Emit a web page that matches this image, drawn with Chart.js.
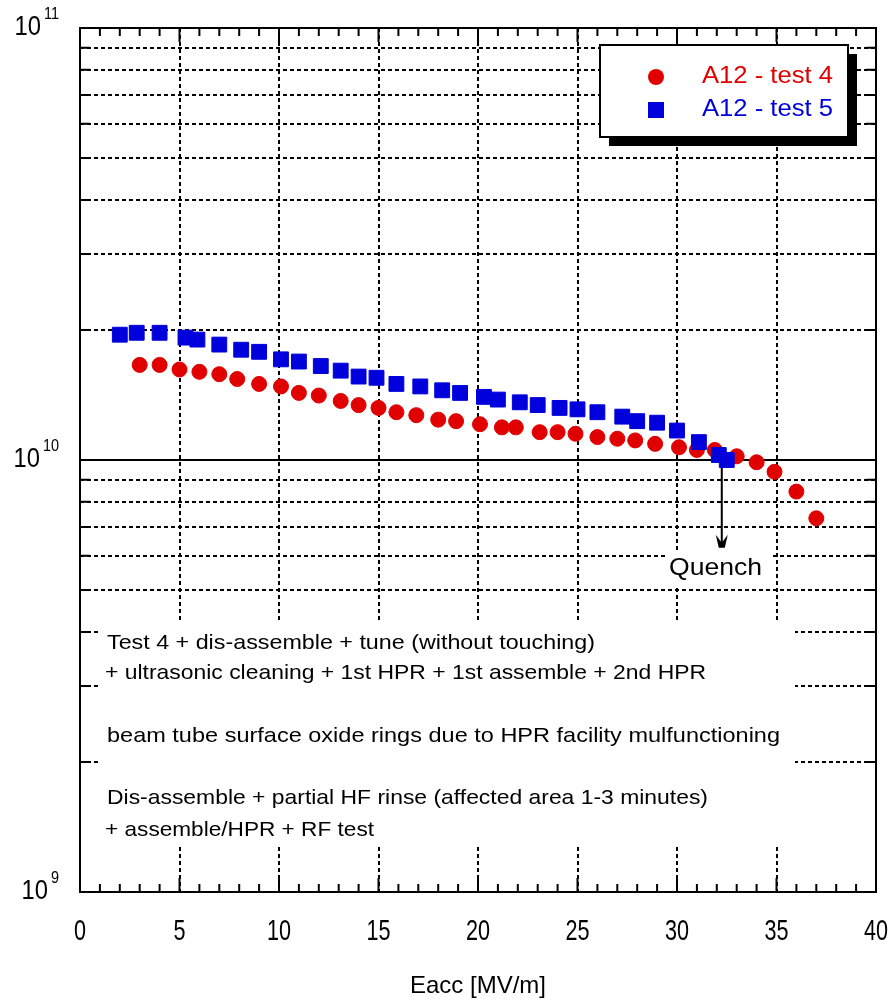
<!DOCTYPE html>
<html>
<head>
<meta charset="utf-8">
<script src="https://cdn.jsdelivr.net/npm/chart.js@4.4.0/dist/chart.umd.min.js"></script>
<style>
  body { margin: 0; background: #fff; }
  canvas { display: block; }
</style>
</head>
<body>
<canvas id="mychart" width="891" height="1001"></canvas>
<script>
// Q0 vs Eacc
var eaccTest4 = [3, 4, 5, 6, 7, 7.9, 9, 10.1, 11, 12, 13.1, 14, 15, 15.9, 16.9, 18, 18.9, 20.1, 21.2, 21.9,
                 23.1, 24, 24.9, 26, 27, 27.9, 28.9, 30.1, 31, 31.9, 33, 34, 34.9, 36, 37];
var q0Test4 = [1.66e10, 1.66e10, 1.62e10, 1.60e10, 1.58e10, 1.54e10, 1.50e10, 1.48e10, 1.43e10, 1.41e10,
               1.37e10, 1.34e10, 1.32e10, 1.29e10, 1.27e10, 1.24e10, 1.23e10, 1.21e10, 1.19e10, 1.19e10,
               1.16e10, 1.16e10, 1.15e10, 1.13e10, 1.12e10, 1.11e10, 1.09e10, 1.07e10, 1.055e10, 1.055e10,
               1.02e10, 9.88e9, 9.39e9, 8.45e9, 7.33e9];
var eaccTest5 = [2, 2.85, 4, 5.3, 5.9, 7, 8.1, 9, 10.1, 11, 12.1, 13.1, 14, 14.9, 15.9, 17.1, 18.2, 19.1,
                 20.3, 21, 22.1, 23, 24.1, 25, 26, 27.25, 28, 29, 30, 31.1, 32.1, 32.5];
var q0Test5 = [1.95e10, 1.97e10, 1.97e10, 1.92e10, 1.90e10, 1.85e10, 1.80e10, 1.78e10, 1.71e10, 1.69e10,
               1.65e10, 1.61e10, 1.56e10, 1.55e10, 1.50e10, 1.48e10, 1.45e10, 1.43e10, 1.40e10, 1.38e10,
               1.36e10, 1.34e10, 1.32e10, 1.31e10, 1.29e10, 1.26e10, 1.23e10, 1.22e10, 1.17e10, 1.10e10,
               1.027e10, 1.0e10];
var seriesNames = ["A12 - test 4", "A12 - test 5"];
var seriesColors = ["#e00000", "#0000dc"];
var xTickValues = [0, 5, 10, 15, 20, 25, 30, 35, 40];
var yTickValues = [1e9, 2e9, 3e9, 4e9, 5e9, 6e9, 7e9, 8e9, 9e9,
                   1e10, 2e10, 3e10, 4e10, 5e10, 6e10, 7e10, 8e10, 9e10, 1e11];
var yDecades = [9, 10, 11];
var xTitle = "Eacc [MV/m]";
var notes = [
  "Test 4 + dis-assemble + tune (without touching)",
  "+ ultrasonic cleaning + 1st HPR + 1st assemble + 2nd HPR",
  "beam tube surface oxide rings due to HPR facility mulfunctioning",
  "Dis-assemble + partial HF rinse (affected area 1-3 minutes)",
  "+ assemble/HPR + RF test"
];
var quench = { label: "Quench", eacc: 32.25, from: 1.0e10, to: 6.3e9 };

var SANS = "'Liberation Sans', Arial, sans-serif";

function toPoints(xs, ys) {
    return xs.map(function(x, i) { return { x: x, y: ys[i] }; });
}

// squeeze or stretch text to the width it has in the picture
function fitText(ctx, text, x, y, width) {
    var w = ctx.measureText(text).width;
    ctx.save();
    ctx.translate(x, y);
    ctx.scale(width / w, 1);
    ctx.fillText(text, 0, 0);
    ctx.restore();
}

// tall narrow digits like the original plot program
function narrowText(ctx, text, x, y, k) {
    ctx.save();
    ctx.translate(x, y);
    ctx.scale(k, 1);
    ctx.fillText(text, 0, 0);
    ctx.restore();
    return ctx.measureText(text).width * k;
}

var decor = {
    id: "decor",
    beforeDatasetsDraw: function(chart) {
        var ctx = chart.ctx, a = chart.chartArea;
        var xs = chart.scales.x, ys = chart.scales.y;
        ctx.save();
        // solid line at 10^10
        var y10 = ys.getPixelForValue(1e10);
        ctx.strokeStyle = "#000";
        ctx.lineWidth = 2;
        ctx.beginPath();
        ctx.moveTo(a.left, y10);
        ctx.lineTo(a.right, y10);
        ctx.stroke();
        // white boxes under the notes and the quench label
        ctx.fillStyle = "#fff";
        ctx.fillRect(100, 620, 695, 225);
        ctx.fillRect(665, 553, 105, 32);
        // notes
        ctx.fillStyle = "#000";
        ctx.font = "21px " + SANS;
        ctx.textBaseline = "middle";
        ctx.textAlign = "left";
        var noteY = [643, 673, 736, 798, 830];
        var noteX = [107, 105, 107, 107, 105];
        var noteW = [488, 601, 673, 601, 269];
        notes.forEach(function(t, i) { fitText(ctx, t, noteX[i], noteY[i], noteW[i]); });
        // quench arrow
        var qx = xs.getPixelForValue(quench.eacc);
        var qy0 = ys.getPixelForValue(quench.from);
        var qy1 = ys.getPixelForValue(quench.to);
        ctx.lineWidth = 2;
        ctx.beginPath();
        ctx.moveTo(qx, qy0);
        ctx.lineTo(qx, qy1);
        ctx.stroke();
        ctx.beginPath();
        ctx.moveTo(qx - 6, qy1 - 12);
        ctx.lineTo(qx, qy1 - 4);
        ctx.lineTo(qx + 6, qy1 - 12);
        ctx.lineTo(qx + 3, qy1 + 1);
        ctx.lineTo(qx - 3, qy1 + 1);
        ctx.closePath();
        ctx.fill();
        ctx.font = "24px " + SANS;
        fitText(ctx, quench.label, 669, 568, 93);
        ctx.restore();
    },
    afterDatasetsDraw: function(chart) {
        var ctx = chart.ctx, a = chart.chartArea;
        var xs = chart.scales.x, ys = chart.scales.y;
        ctx.save();
        ctx.strokeStyle = "#000";
        ctx.fillStyle = "#000";
        // inward ticks on all four sides
        ctx.lineWidth = 2;
        ctx.beginPath();
        for (var v = 0; v <= 40; v++) {
            var px = xs.getPixelForValue(v);
            var len = v % 5 === 0 ? 14 : 8;
            ctx.moveTo(px, a.bottom); ctx.lineTo(px, a.bottom - len);
            ctx.moveTo(px, a.top); ctx.lineTo(px, a.top + len);
        }
        yTickValues.forEach(function(t) {
            var py = ys.getPixelForValue(t);
            ctx.moveTo(a.left, py); ctx.lineTo(a.left + 10, py);
            ctx.moveTo(a.right, py); ctx.lineTo(a.right - 10, py);
        });
        ctx.stroke();
        ctx.strokeRect(a.left, a.top, a.right - a.left, a.bottom - a.top);

        // x tick labels
        ctx.textBaseline = "middle";
        ctx.textAlign = "center";
        ctx.font = "30px " + SANS;
        xTickValues.forEach(function(t) {
            narrowText(ctx, String(t), xs.getPixelForValue(t), a.bottom + 40, 0.72);
        });

        // y labels as powers of ten
        ctx.textAlign = "right";
        yDecades.forEach(function(p) {
            var py = ys.getPixelForValue(Math.pow(10, p));
            ctx.font = "17px " + SANS;
            var sw = narrowText(ctx, String(p), 59, py - 14, 0.85);
            ctx.font = "28px " + SANS;
            narrowText(ctx, "10", 59 - sw - 3, py - 1, 0.85);
        });

        // legend with drop shadow
        var lx = a.right - 276, ly = a.top + 17, lw = 248, lh = 92;
        ctx.fillRect(lx + 9, ly + 9, lw, lh);
        ctx.fillStyle = "#fff";
        ctx.fillRect(lx, ly, lw, lh);
        ctx.lineWidth = 2;
        ctx.strokeRect(lx, ly, lw, lh);
        ctx.textAlign = "left";
        ctx.font = "23px " + SANS;
        [0, 1].forEach(function(i) {
            var ry = ly + 32 + i * 33;
            ctx.fillStyle = seriesColors[i];
            if (i === 0) {
                ctx.beginPath();
                ctx.arc(lx + 56, ry, 8, 0, Math.PI * 2);
                ctx.fill();
            } else {
                ctx.fillRect(lx + 48, ry - 8, 16, 16);
            }
            fitText(ctx, seriesNames[i], lx + 102, ry, 131);
        });
        ctx.restore();
    }
};

window.addEventListener("load", function() {
    var canvas = document.getElementById("mychart").getContext("2d");
    var myChart = new Chart(canvas, {
        type: "scatter",
        data: {
            datasets: [{
                label: seriesNames[0],
                data: toPoints(eaccTest4, q0Test4),
                pointStyle: "circle",
                pointRadius: 7.5,
                backgroundColor: seriesColors[0],
                borderColor: seriesColors[0],
                borderWidth: 1,
                order: 1
            }, {
                label: seriesNames[1],
                data: toPoints(eaccTest5, q0Test5),
                pointStyle: "rect",
                pointRadius: 10.5,
                backgroundColor: seriesColors[1],
                borderColor: seriesColors[1],
                borderWidth: 1,
                order: 0
            }]
        },
        options: {
            responsive: false,
            animation: false,
            layout: { padding: { top: 28, right: 15, left: 0, bottom: 0 } },
            plugins: {
                legend: { display: false },
                tooltip: { enabled: false }
            },
            scales: {
                x: {
                    type: "linear",
                    min: 0,
                    max: 40,
                    afterFit: function(s) {
                        s.height = 109;
                        s.paddingLeft = 0;
                        s.paddingRight = 0;
                    },
                    ticks: { stepSize: 5, display: false },
                    grid: { color: "#000", lineWidth: 2, drawTicks: false },
                    border: { display: false, dash: [4, 3] },
                    title: {
                        display: true,
                        text: xTitle,
                        color: "#000",
                        padding: { top: 0, bottom: 0 },
                        font: { family: SANS, size: 24 }
                    }
                },
                y: {
                    type: "logarithmic",
                    min: 1e9,
                    max: 1e11,
                    afterFit: function(s) { s.width = 80; },
                    afterBuildTicks: function(s) {
                        s.ticks = yTickValues.map(function(v) { return { value: v }; });
                    },
                    ticks: { display: false },
                    grid: {
                        drawTicks: false,
                        lineWidth: 2,
                        color: function(c) {
                            return c.tick && c.tick.value === 1e10 ? "rgba(0,0,0,0)" : "#000";
                        }
                    },
                    border: { display: false, dash: [4, 3] }
                }
            }
        },
        plugins: [decor]
    });
});
</script>
</body>
</html>
